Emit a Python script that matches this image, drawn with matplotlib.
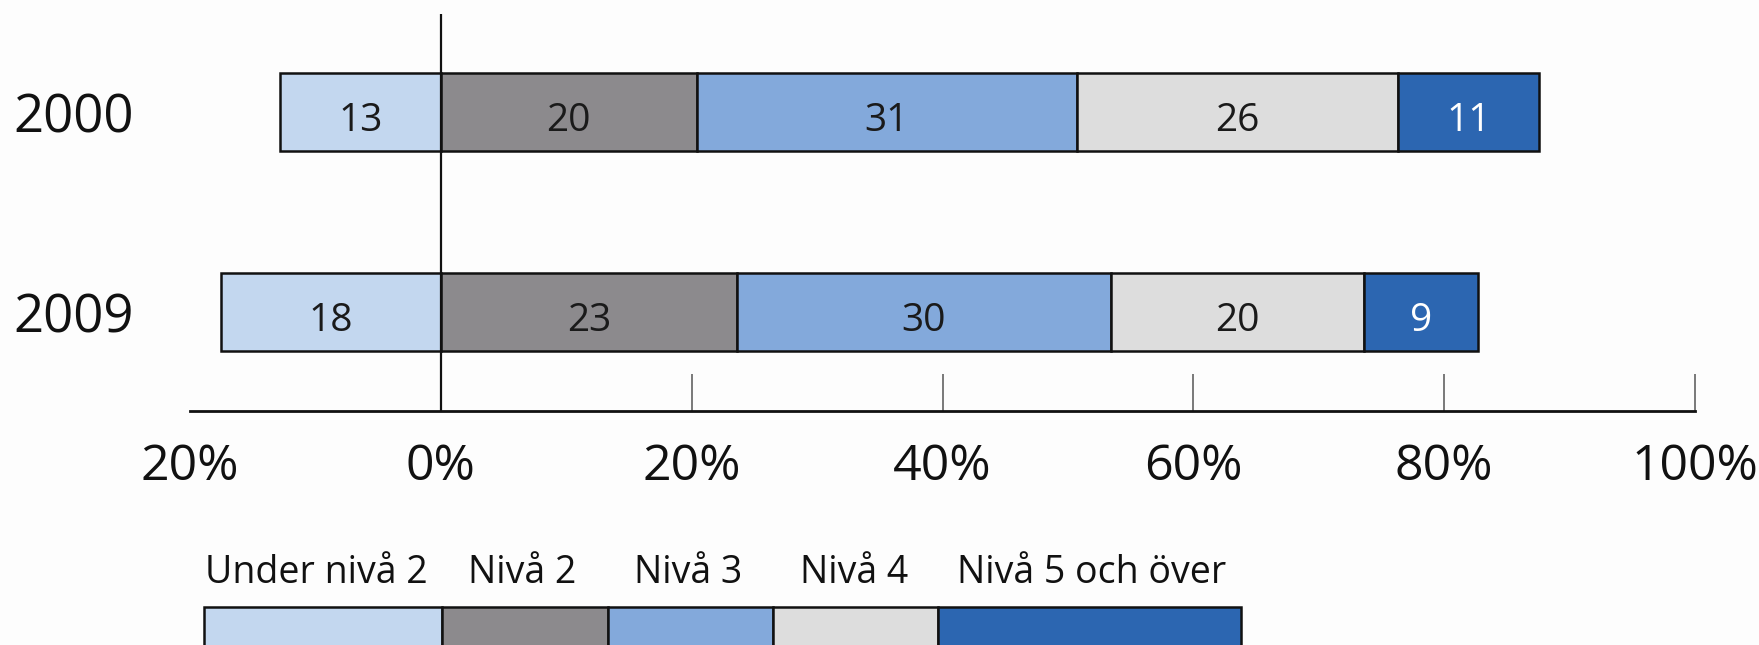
import matplotlib; matplotlib.use('Agg')
import matplotlib.pyplot as plt
from matplotlib.patches import Rectangle
import matplotlib.transforms as mtransforms

plt.rcParams['font.family'] = ['Open Sans', 'DejaVu Sans']

# data
years = ['2000', '2009']
levels = ['Under nivå 2', 'Nivå 2', 'Nivå 3', 'Nivå 4', 'Nivå 5 och över']
below2 = [12.8, 17.5]          # drawn to the left of 0
niva2 = [20.4, 23.6]
niva3 = [30.3, 29.8]
niva4 = [25.6, 20.2]
niva5 = [11.3, 9.1]
labels_2000 = ['13', '20', '31', '26', '11']
labels_2009 = ['18', '23', '30', '20', '9']
xticks = [-20, 0, 20, 40, 60, 80, 100]
xticklabels = ['20%', '0%', '20%', '40%', '60%', '80%', '100%']

COLS = ['#C3D7EF', '#8C8A8D', '#83A9DB', '#DDDDDD', '#2C66B1']
TXT = ['#1a1a1a', '#1a1a1a', '#1a1a1a', '#1a1a1a', 'white']
BG = '#FDFDFD'

W, H = 1759, 645
fig = plt.figure(figsize=(W/100, H/100), dpi=100, facecolor=BG)
ax = fig.add_axes([190/W, (H-411)/H, 1505/W, (411-13.5)/H])
ax.set_facecolor('none')
ax.set_xlim(-20, 100)
ax.set_ylim(-0.4955, 1.494)

ypos = [1, 0]
hgt = 0.393
segs = [niva2, niva3, niva4, niva5]
lab = [labels_2000, labels_2009]
for i, y in enumerate(ypos):
    ax.barh(y, -below2[i], height=hgt, color=COLS[0], edgecolor='#111', lw=1.8, zorder=2)
    ax.annotate(lab[i][0], (-below2[i]/2, y), xytext=(0, -3), textcoords='offset points',
                size=28, color=TXT[0], ha='center', va='center_baseline', zorder=4)
    left = 0
    for k, s in enumerate(segs):
        ax.barh(y, s[i], left=left, height=hgt, color=COLS[k+1], edgecolor='#111', lw=1.8, zorder=2)
        ax.annotate(lab[i][k+1], (left + s[i]/2, y), xytext=(0, -3), textcoords='offset points',
                    size=28, color=TXT[k+1], ha='center', va='center_baseline', zorder=4)
        left += s[i]

ax.axvline(0, color='#111', lw=1.6, zorder=3)

for sp in ['top', 'left', 'right']:
    ax.spines[sp].set_visible(False)
ax.spines['bottom'].set_color('#111')
ax.spines['bottom'].set_linewidth(2)
ax.set_yticks([])
ax.set_xticks(xticks)
ax.set_xticklabels(xticklabels, size=36, color='#111')
ax.tick_params(axis='x', direction='in', length=27, width=1.1, color='#555', pad=23)
for t in ax.xaxis.get_major_ticks()[:2]:
    t.tick1line.set_visible(False)

# year labels
tr = mtransforms.blended_transform_factory(fig.transFigure, ax.transData)
for y, yr in zip(ypos, years):
    ax.text(13.5/W, y, yr, transform=tr, size=38, color='#111', ha='left', va='center_baseline')

# legend strip
lg = fig.add_axes([0, 0, 1, 1], zorder=-1)
lg.set_xlim(0, W); lg.set_ylim(H, 0); lg.axis('off')
edges = [204, 442, 608, 773, 938, 1241]
text_x = [205, 468, 634, 800, 957]
for k in range(5):
    lg.add_patch(Rectangle((edges[k], 607), edges[k+1]-edges[k], 60, facecolor=COLS[k], edgecolor='#111', lw=1.8))
    lg.text(text_x[k], 583, levels[k], size=27, color='#111', ha='left', va='baseline')

fig.savefig('out.png', dpi=100, facecolor=BG)
